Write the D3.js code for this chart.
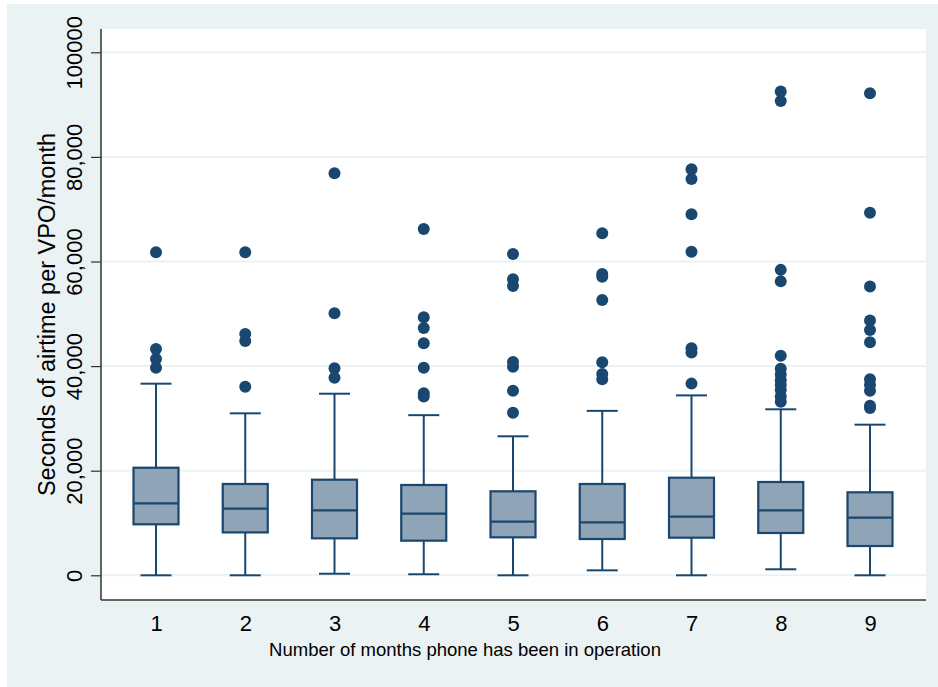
<!DOCTYPE html>
<html>
<head>
<meta charset="utf-8">
<script src="https://cdn.jsdelivr.net/npm/d3@7"></script>
<style>
  body { margin: 0; background: #ffffff; }
  text { font-family: "Liberation Sans", Arial, sans-serif; fill: #000; }
</style>
</head>
<body>
<script>

	// box plot values
	var months = [1, 2, 3, 4, 5, 6, 7, 8, 9];
	var whiskerLow  = [0, 0, 300, 200, 0, 950, 0, 1150, 0];
	var q1          = [9750, 8200, 7070, 6620, 7260, 6940, 7190, 8090, 5600];
	var medians     = [13770, 12740, 12430, 11780, 10250, 10130, 11210, 12430, 11020];
	var q3          = [20570, 17460, 18280, 17270, 16060, 17460, 18660, 17840, 15870];
	var whiskerHigh = [36640, 30970, 34720, 30620, 26580, 31440, 34400, 31740, 28800];
	var outliers = [
		[39700, 41360, 43270, 61750],
		[36070, 44800, 46140, 61780],
		[37790, 39580, 50100, 76860],
		[34200, 34800, 39700, 44360, 47300, 49330, 66210],
		[31060, 35300, 39880, 40800, 55300, 56600, 61430],
		[37470, 38500, 40730, 52640, 57090, 57600, 65390],
		[36650, 42600, 43400, 61880, 69030, 75780, 77630],
		[33200, 34200, 35450, 36400, 37300, 38400, 39500, 42000, 56200, 58400, 90700, 92500],
		[32000, 32400, 35300, 36400, 37470, 44550, 46900, 48700, 55200, 69300, 92150]
	];
	var yTicks = [0, 20000, 40000, 60000, 80000, 100000];
	var yTickLabels = ["0", "20,000", "40,000", "60,000", "80,000", "100000"];

	var width = 938, height = 687;
	var margin = {top: 29, right: 12, bottom: 87, left: 101};

	var navy = "#1a476f";

	var svg = d3.select("body")
		.append("svg")
		.attr("width", width)
		.attr("height", height);

	// outer graph region
	svg.append("rect")
		.attr("x", 7).attr("y", 4)
		.attr("width", width - 7).attr("height", height - 4)
		.attr("fill", "#eaf2f3");

	// plot region
	svg.append("rect")
		.attr("x", margin.left).attr("y", margin.top)
		.attr("width", width - margin.left - margin.right)
		.attr("height", height - margin.top - margin.bottom)
		.attr("fill", "#ffffff");

	var x = d3.scalePoint()
		.domain(months)
		.range([156, 870]);

	var y = d3.scaleLinear()
		.domain([0, 100000])
		.range([575.3, 52.3]);

	var plotRight = width - margin.right;
	var plotBottom = height - margin.bottom;

	// grid lines
	svg.append("g")
		.selectAll("line")
		.data(yTicks)
		.enter()
		.append("line")
		.attr("x1", margin.left).attr("x2", plotRight)
		.attr("y1", function(d){ return y(d); })
		.attr("y2", function(d){ return y(d); })
		.attr("stroke", "#eaf2f3")
		.attr("stroke-width", 2);

	// y axis
	var yAxis = d3.axisLeft(y)
		.tickValues(yTicks)
		.tickSize(10)
		.tickFormat(function(d, i){ return yTickLabels[i]; });

	var gy = svg.append("g")
		.attr("transform", "translate(" + margin.left + ",0)")
		.call(yAxis);
	gy.select(".domain").remove();
	gy.selectAll(".tick line").attr("stroke", "#333").attr("stroke-width", 1.2);
	gy.selectAll(".tick text")
		.attr("x", 0).attr("dy", null)
		.attr("transform", "translate(-19,0) rotate(-90)")
		.attr("text-anchor", "middle")
		.style("font-size", "22px")
		.style("font-family", "Liberation Sans, Arial, sans-serif");

	svg.append("line")
		.attr("x1", margin.left).attr("x2", margin.left)
		.attr("y1", margin.top).attr("y2", plotBottom)
		.attr("stroke", "#333").attr("stroke-width", 1.5);

	// x axis
	var xAxis = d3.axisBottom(x).tickSize(0).tickPadding(0);
	var gx = svg.append("g")
		.attr("transform", "translate(0," + plotBottom + ")")
		.call(xAxis);
	gx.select(".domain").remove();
	gx.selectAll(".tick text")
		.attr("y", 31).attr("dy", null)
		.style("font-size", "22px")
		.style("font-family", "Liberation Sans, Arial, sans-serif");

	svg.append("line")
		.attr("x1", margin.left).attr("x2", plotRight)
		.attr("y1", plotBottom).attr("y2", plotBottom)
		.attr("stroke", "#333").attr("stroke-width", 1.5);

	// axis titles
	svg.append("text")
		.attr("transform", "translate(55," + ((margin.top + plotBottom) / 2) + ") rotate(-90)")
		.attr("text-anchor", "middle")
		.style("font-size", "23.5px")
		.text("Seconds of airtime per VPO/month");

	svg.append("text")
		.attr("x", 465).attr("y", 656)
		.attr("text-anchor", "middle")
		.style("font-size", "18.5px")
		.text("Number of months phone has been in operation");

	// boxes
	var boxW = 45, capW = 31;
	var boxes = svg.append("g")
		.selectAll("g")
		.data(months)
		.enter()
		.append("g");

	boxes.append("line")
		.attr("x1", function(d){ return x(d); })
		.attr("x2", function(d){ return x(d); })
		.attr("y1", function(d, i){ return y(whiskerLow[i]); })
		.attr("y2", function(d, i){ return y(q1[i]); })
		.attr("stroke", navy).attr("stroke-width", 2);

	boxes.append("line")
		.attr("x1", function(d){ return x(d); })
		.attr("x2", function(d){ return x(d); })
		.attr("y1", function(d, i){ return y(whiskerHigh[i]); })
		.attr("y2", function(d, i){ return y(q3[i]); })
		.attr("stroke", navy).attr("stroke-width", 2);

	boxes.append("line")
		.attr("x1", function(d){ return x(d) - capW / 2; })
		.attr("x2", function(d){ return x(d) + capW / 2; })
		.attr("y1", function(d, i){ return y(whiskerLow[i]); })
		.attr("y2", function(d, i){ return y(whiskerLow[i]); })
		.attr("stroke", navy).attr("stroke-width", 2);

	boxes.append("line")
		.attr("x1", function(d){ return x(d) - capW / 2; })
		.attr("x2", function(d){ return x(d) + capW / 2; })
		.attr("y1", function(d, i){ return y(whiskerHigh[i]); })
		.attr("y2", function(d, i){ return y(whiskerHigh[i]); })
		.attr("stroke", navy).attr("stroke-width", 2);

	boxes.append("rect")
		.attr("x", function(d){ return x(d) - boxW / 2; })
		.attr("y", function(d, i){ return y(q3[i]); })
		.attr("width", boxW)
		.attr("height", function(d, i){ return y(q1[i]) - y(q3[i]); })
		.attr("fill", "#90a4b8")
		.attr("stroke", navy).attr("stroke-width", 2.2);

	boxes.append("line")
		.attr("x1", function(d){ return x(d) - boxW / 2; })
		.attr("x2", function(d){ return x(d) + boxW / 2; })
		.attr("y1", function(d, i){ return y(medians[i]); })
		.attr("y2", function(d, i){ return y(medians[i]); })
		.attr("stroke", navy).attr("stroke-width", 2.2);

	// outside values
	boxes.selectAll("circle")
		.data(function(d, i){ return outliers[i].map(function(v){ return {m: d, v: v}; }); })
		.enter()
		.append("circle")
		.attr("cx", function(d){ return x(d.m); })
		.attr("cy", function(d){ return y(d.v); })
		.attr("r", 6)
		.attr("fill", navy);

</script>
</body>
</html>
